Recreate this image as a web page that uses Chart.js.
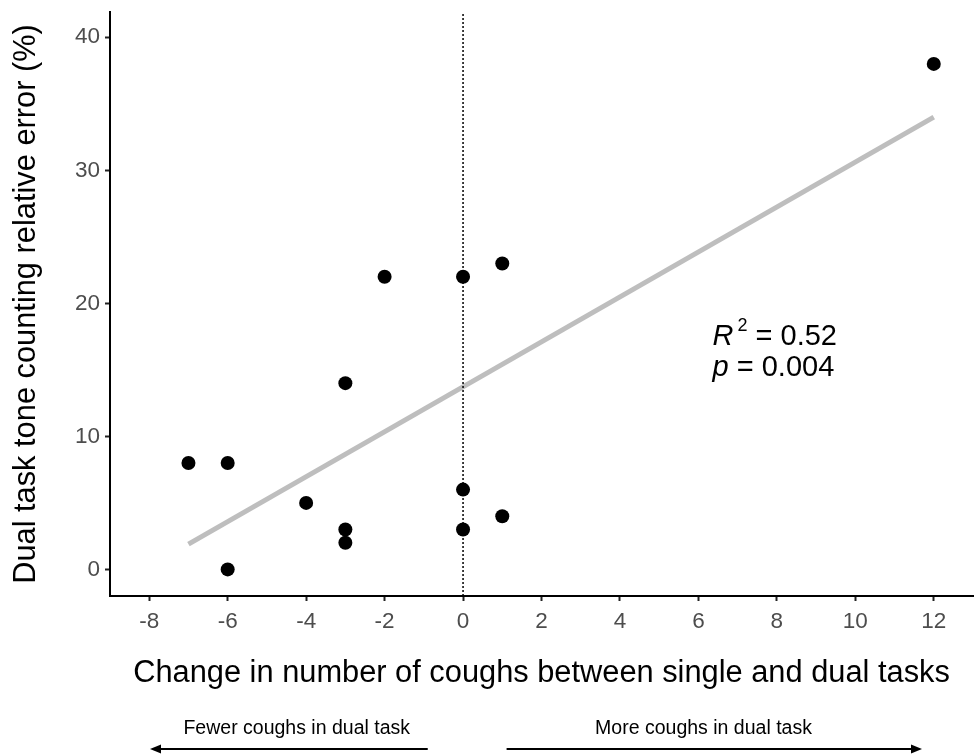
<!DOCTYPE html>
<html><head><meta charset="utf-8">
<script src="https://cdn.jsdelivr.net/npm/chart.js@4.4.1/dist/chart.umd.min.js"></script>
<style>html,body{margin:0;padding:0;background:#fff}canvas{display:block}</style>
</head><body>
<canvas id="c" width="974" height="754"></canvas>
<script>
// ---- data ----
const coughChange = [-7, -6, -6, -4, -3, -3, -3, -2, 0, 0, 0, 1, 1, 12];
const relError    = [ 8,  8,  0,  5, 14,  3,  2, 22, 22, 6, 3, 23, 4, 38];
const fitX = [-7, 12];
const fitY = [1.9, 34.0];
const refLineX = 0;
const xTicks = [-8, -6, -4, -2, 0, 2, 4, 6, 8, 10, 12];
const yTicks = [0, 10, 20, 30, 40];
const xRange = [-9, 13];
const yRange = [-2, 41.9];
const statR2 = '0.52';
const statP = '0.004';
const xTitle = 'Change in number of coughs between single and dual tasks';
const yTitle = 'Dual task tone counting relative error (%)';
const leftArrowLabel = 'Fewer coughs in dual task';
const rightArrowLabel = 'More coughs in dual task';

const FONT = '"Liberation Sans", Arial, Helvetica, sans-serif';

const pts = coughChange.map((x, i) => ({x, y: relError[i]}));
const fit = fitX.map((x, i) => ({x, y: fitY[i]}));
const ref = yRange.map(y => ({x: refLineX, y}));

const annot = {
  id: 'annot',
  afterDraw(chart) {
    const ctx = chart.ctx;
    const xs = chart.scales.x, ys = chart.scales.y;
    ctx.save();
    ctx.fillStyle = '#000';
    ctx.textBaseline = 'alphabetic';
    // R^2 line
    let x0 = xs.getPixelForValue(6.36);
    let b1 = ys.getPixelForValue(16.88);
    ctx.font = 'italic 29px ' + FONT;
    ctx.textAlign = 'left';
    ctx.fillText('R', x0, b1);
    let x = x0 + ctx.measureText('R').width + 4;
    ctx.font = '18px ' + FONT;
    ctx.fillText('2', x, b1 - 14);
    x += ctx.measureText('2').width;
    ctx.font = '29px ' + FONT;
    ctx.fillText(' = ' + statR2, x, b1);
    // p line
    let b2 = ys.getPixelForValue(14.55);
    ctx.font = 'italic 29px ' + FONT;
    ctx.fillText('p', x0, b2);
    x = x0 + ctx.measureText('p').width;
    ctx.font = '29px ' + FONT;
    ctx.fillText(' = ' + statP, x, b2);

    // arrows below the axis
    const ay = 749;
    ctx.strokeStyle = '#000';
    ctx.lineWidth = 2;
    const arrow = (from, to) => {
      const dir = Math.sign(to - from);
      ctx.beginPath();
      ctx.moveTo(from, ay);
      ctx.lineTo(to - dir * 8, ay);
      ctx.stroke();
      ctx.beginPath();
      ctx.moveTo(to, ay);
      ctx.lineTo(to - dir * 11, ay - 4.5);
      ctx.lineTo(to - dir * 11, ay + 4.5);
      ctx.closePath();
      ctx.fill();
    };
    arrow(xs.getPixelForValue(-0.9), xs.getPixelForValue(-7.98));
    arrow(xs.getPixelForValue(1.11), xs.getPixelForValue(11.7));
    ctx.font = '19.5px ' + FONT;
    ctx.textAlign = 'center';
    ctx.fillText(leftArrowLabel, xs.getPixelForValue(-4.24), 734);
    ctx.fillText(rightArrowLabel, xs.getPixelForValue(6.13), 734);
    ctx.restore();
  }
};

new Chart(document.getElementById('c'), {
  type: 'scatter',
  data: {
    datasets: [
      {
        type: 'line', data: ref, borderColor: '#000', borderWidth: 1.5,
        borderDash: [2, 2], pointRadius: 0, fill: false
      },
      {
        type: 'line', data: fit, borderColor: '#bebebe', borderWidth: 5,
        pointRadius: 0, fill: false, borderCapStyle: 'butt'
      },
      {
        data: pts, backgroundColor: '#000', borderColor: '#000',
        pointRadius: 7, pointHoverRadius: 7, borderWidth: 0
      }
    ]
  },
  options: {
    responsive: false,
    animation: false,
    events: [],
    layout: {autoPadding: false, padding: {top: 12, right: 1, left: 0, bottom: 0}},
    plugins: {legend: {display: false}, tooltip: {enabled: false}},
    scales: {
      x: {
        type: 'linear', min: xRange[0], max: xRange[1],
        afterBuildTicks: s => { s.ticks = xTicks.map(v => ({value: v})); },
        afterFit: s => { s.height = 158; s.paddingLeft = 0; s.paddingRight = 0; },
        grid: {drawOnChartArea: false, tickLength: 5, tickColor: '#222', tickWidth: 2},
        border: {display: true, color: '#000', width: 2},
        ticks: {color: '#4d4d4d', font: {family: FONT, size: 22.5}, padding: 7, maxRotation: 0},
        title: {display: true, text: xTitle, color: '#000',
                font: {family: FONT, size: 30.8}, padding: {top: 0, bottom: 62}}
      },
      y: {
        type: 'linear', min: yRange[0], max: yRange[1],
        afterBuildTicks: s => { s.ticks = yTicks.map(v => ({value: v})); },
        afterFit: s => { s.width = 110; s.paddingTop = 0; s.paddingBottom = 0; },
        grid: {drawOnChartArea: false, tickLength: 5, tickColor: '#222', tickWidth: 2},
        border: {display: true, color: '#000', width: 2},
        ticks: {color: '#4d4d4d', font: {family: FONT, size: 22.5}, padding: 5},
        title: {display: true, text: yTitle, color: '#000',
                font: {family: FONT, size: 30.8}, padding: {top: 8, bottom: 0}}
      }
    }
  },
  plugins: [annot]
});
</script>
</body></html>
